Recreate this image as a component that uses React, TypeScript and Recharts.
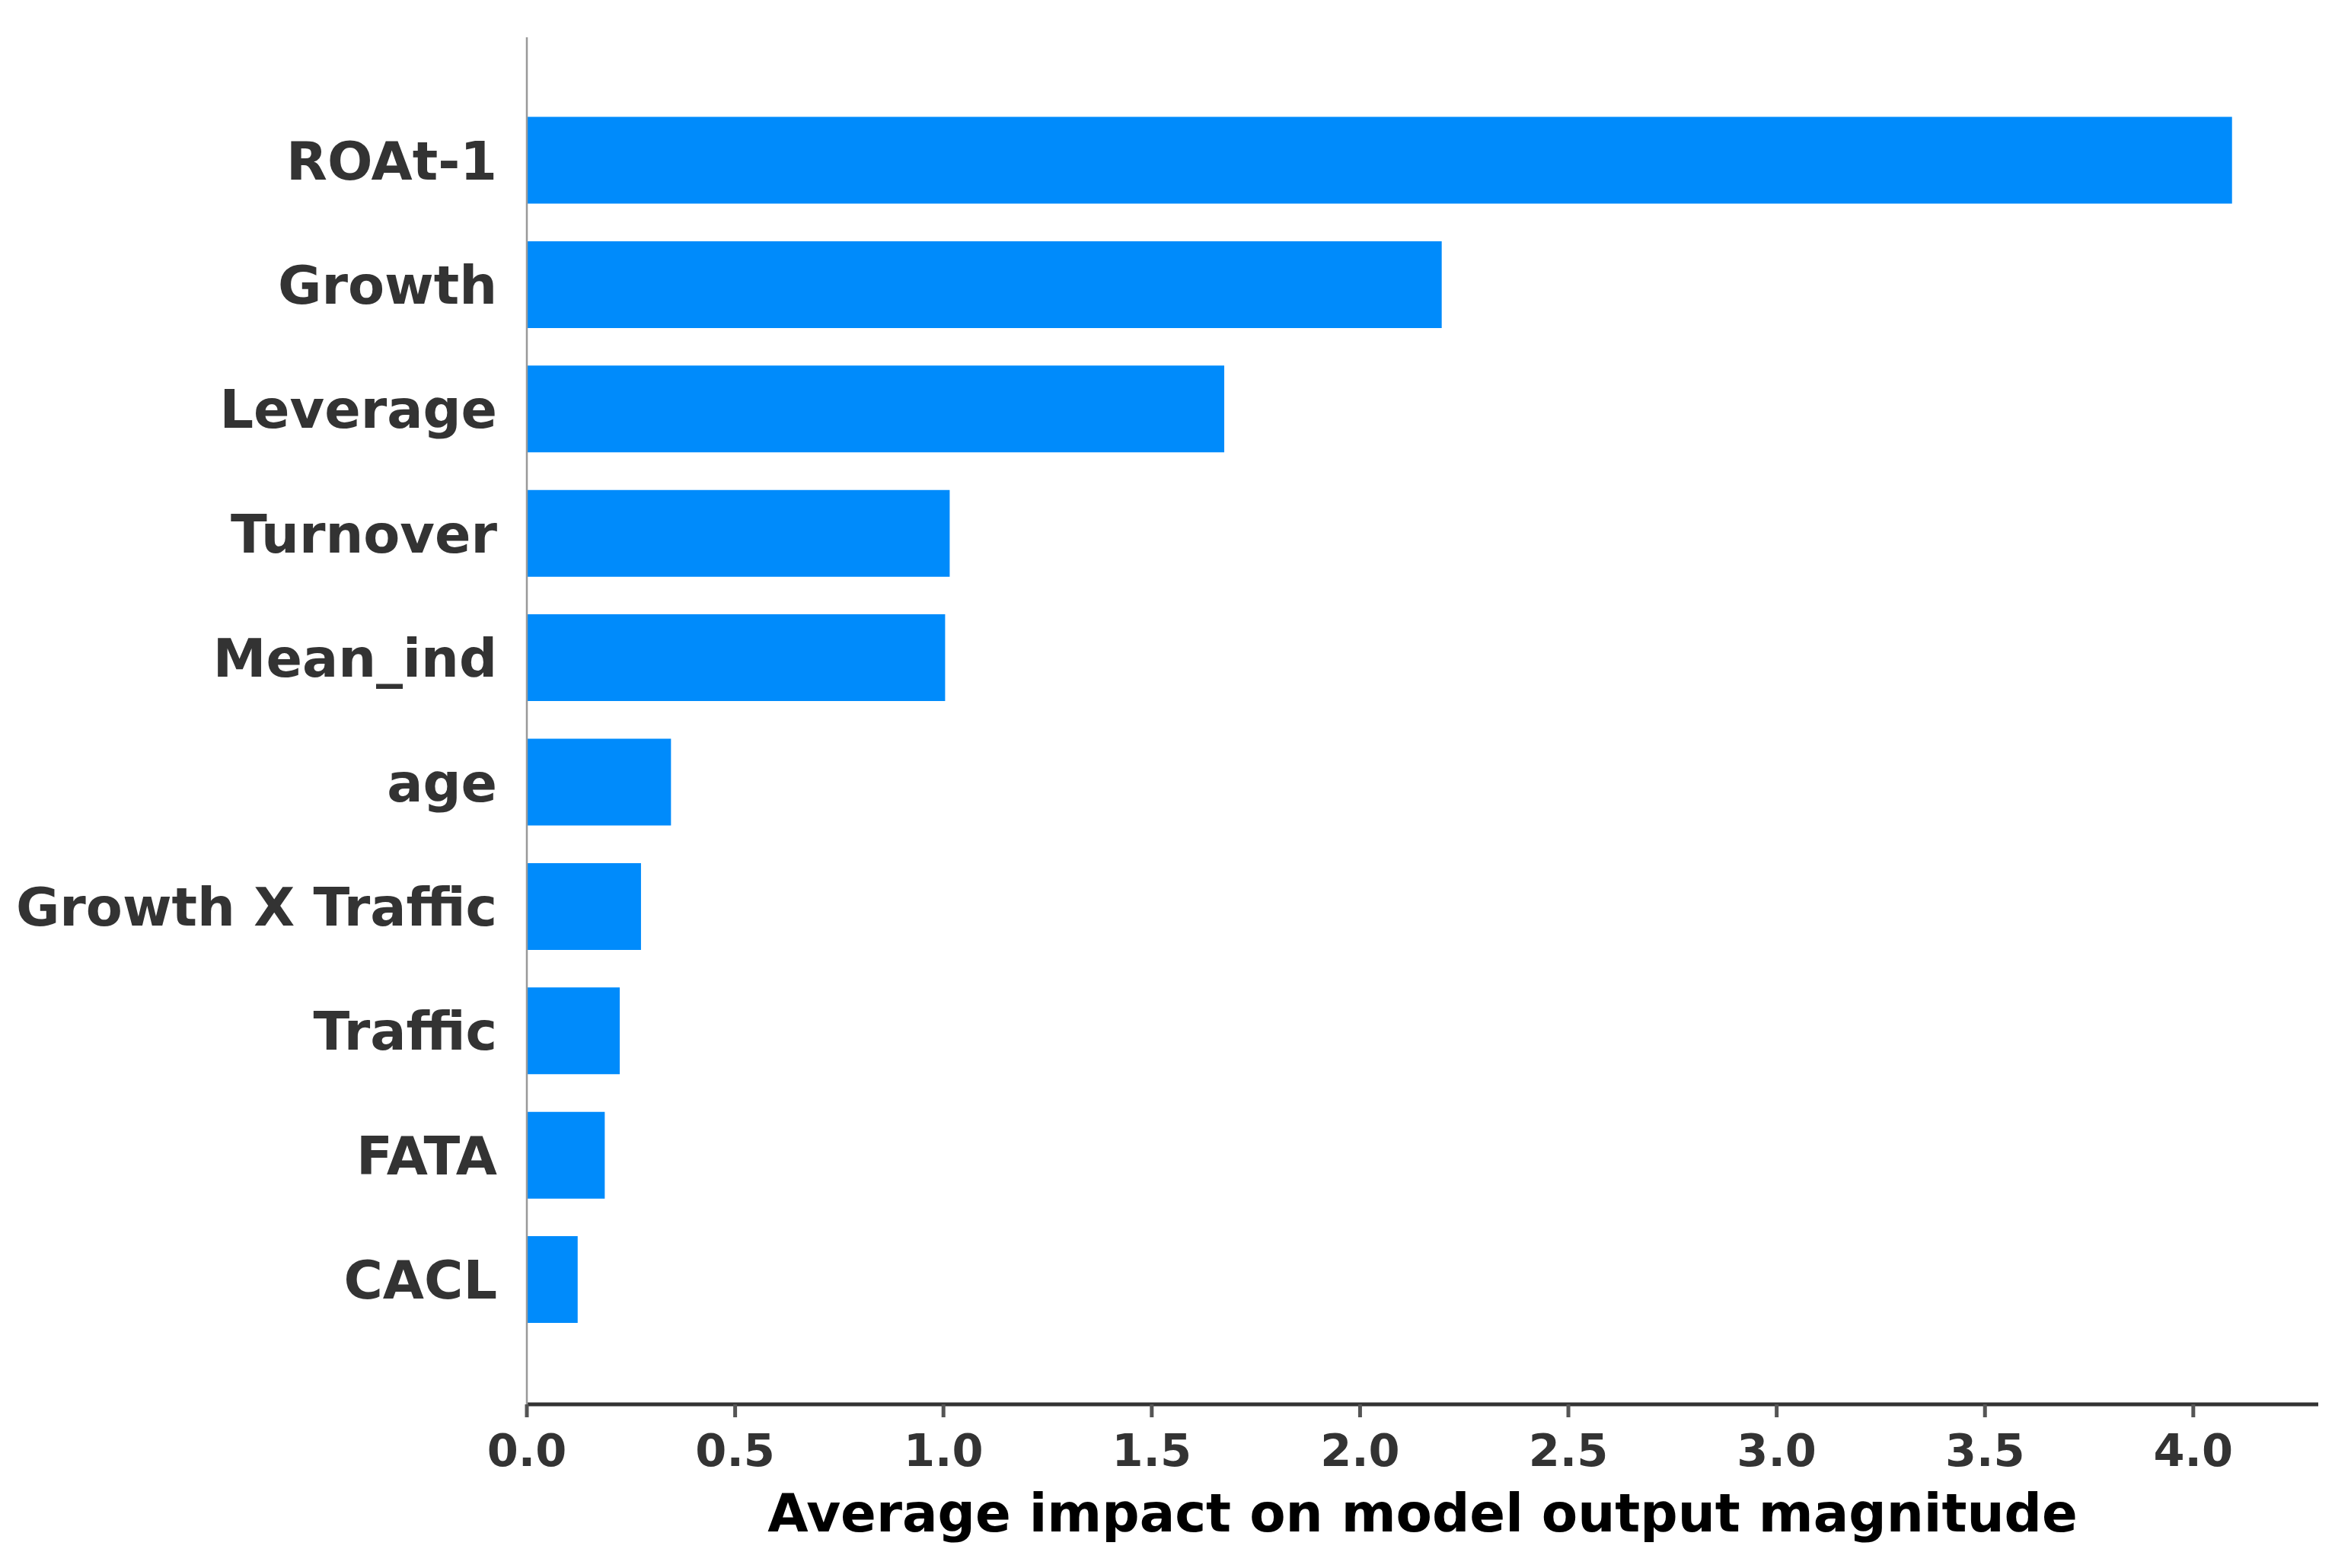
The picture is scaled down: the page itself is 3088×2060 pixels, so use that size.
import { BarChart, Bar, XAxis, YAxis } from 'recharts';

// feature names, top to bottom
const FEATURES = [
  'ROAt-1',
  'Growth',
  'Leverage',
  'Turnover',
  'Mean_ind',
  'age',
  'Growth X Traffic',
  'Traffic',
  'FATA',
  'CACL',
];

// mean |SHAP| per feature
const IMPACT = [4.093, 2.196, 1.674, 1.015, 1.004, 0.346, 0.274, 0.223, 0.187, 0.122];

const X_TICKS = [0, 0.5, 1.0, 1.5, 2.0, 2.5, 3.0, 3.5, 4.0];

const SHAP_BLUE = '#008bfb';
const FONT = '"DejaVu Sans", sans-serif';

const data = FEATURES.map((name, i) => ({ name, value: IMPACT[i] }));

export default function App() {
  return (
    <div style={{ width: 3088, height: 2060, background: '#fff' }}>
      <style>{'body{margin:0}'}</style>
      <BarChart
        width={3088}
        height={2060}
        layout="vertical"
        data={data}
        margin={{ top: 49, right: 43, bottom: 0, left: 0 }}
        barCategoryGap="15%"
      >
        <XAxis
          type="number"
          domain={[0, 4.3]}
          allowDataOverflow
          ticks={X_TICKS}
          tickFormatter={(v: number) => v.toFixed(1)}
          height={215}
          axisLine={{ stroke: '#333', strokeWidth: 5 }}
          tickLine={{ stroke: '#555', strokeWidth: 5 }}
          tickSize={17}
          tickMargin={22}
          tick={{ fill: '#333', fontSize: 59, fontWeight: 'bold', fontFamily: FONT }}
          label={{
            value: 'Average impact on model output magnitude',
            position: 'insideBottom',
            offset: 48,
            fill: '#000',
            fontSize: 69,
            fontWeight: 'bold',
            fontFamily: FONT,
          }}
        />
        <YAxis
          type="category"
          dataKey="name"
          width={692}
          padding={{ top: 80, bottom: 82 }}
          axisLine={{ stroke: '#999', strokeWidth: 2.5 }}
          tickLine={false}
          tickSize={0}
          tickMargin={39}
          interval={0}
          tick={{ fill: '#333', fontSize: 70, fontWeight: 'bold', fontFamily: FONT }}
        />
        <Bar dataKey="value" fill={SHAP_BLUE} isAnimationActive={false} />
      </BarChart>
    </div>
  );
}
